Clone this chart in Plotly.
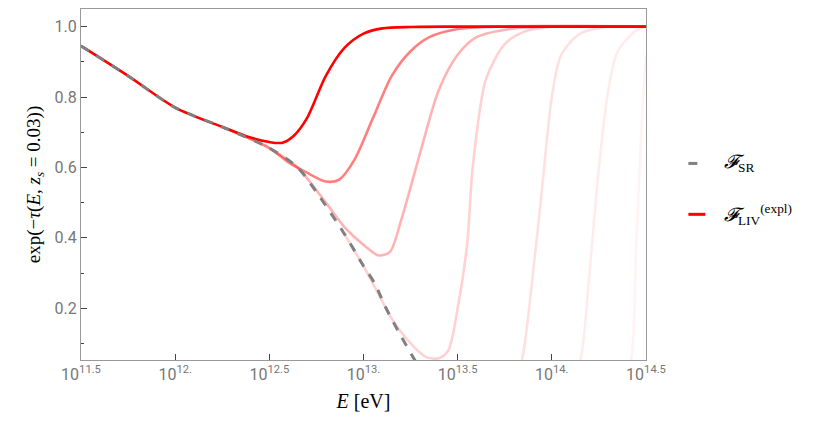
import plotly.graph_objects as go

# log10(E/eV) and exp(-tau)
sr_x = [11.5, 11.75, 12.0, 12.25, 12.5, 12.65, 12.75, 12.9, 13.0, 13.06, 13.12, 13.2, 13.27, 13.3]
sr_y = [0.945, 0.86, 0.77, 0.715, 0.655, 0.6, 0.53, 0.41, 0.32, 0.27, 0.2, 0.12, 0.055, 0.03]

liv_x = [
    [11.5, 11.75, 12.0, 12.25, 12.4, 12.5, 12.57, 12.63, 12.7, 12.8, 12.9, 13.0, 13.1, 13.25, 13.5, 14.5],
    [12.25, 12.5, 12.6, 12.7, 12.8, 12.87, 12.95, 13.05, 13.15, 13.25, 13.35, 13.5, 13.7, 14.5],
    [12.5, 12.65, 12.8, 12.9, 13.0, 13.08, 13.14, 13.2, 13.3, 13.4, 13.5, 13.6, 13.8, 14.0, 14.5],
    [12.9, 13.0, 13.08, 13.15, 13.25, 13.33, 13.4, 13.45, 13.5, 13.55, 13.58, 13.65, 13.75, 13.85, 14.0, 14.5],
    [13.8, 13.84, 13.9, 13.95, 14.0, 14.05, 14.15, 14.3, 14.5],
    [14.1, 14.15, 14.2, 14.25, 14.3, 14.35, 14.45, 14.5],
    [14.38, 14.42, 14.45, 14.48, 14.5],
]
liv_y = [
    [0.945, 0.86, 0.77, 0.715, 0.685, 0.672, 0.67, 0.69, 0.74, 0.86, 0.94, 0.98, 0.995, 0.999, 1.0, 1.0],
    [0.715, 0.655, 0.615, 0.585, 0.56, 0.565, 0.62, 0.74, 0.86, 0.93, 0.97, 0.993, 1.0, 1.0],
    [0.655, 0.6, 0.5, 0.43, 0.38, 0.35, 0.36, 0.45, 0.64, 0.82, 0.92, 0.97, 0.995, 1.0, 1.0],
    [0.41, 0.32, 0.24, 0.17, 0.1, 0.062, 0.058, 0.08, 0.2, 0.38, 0.6, 0.85, 0.95, 0.985, 1.0, 1.0],
    [0.0, 0.05, 0.3, 0.55, 0.8, 0.92, 0.98, 1.0, 1.0],
    [0.0, 0.05, 0.3, 0.6, 0.82, 0.93, 0.99, 1.0],
    [0.0, 0.05, 0.4, 0.75, 0.92],
]
liv_alpha = [1.0, 0.5, 0.3, 0.18, 0.12, 0.08, 0.05]

tick_vals = [11.5, 12.0, 12.5, 13.0, 13.5, 14.0, 14.5]
tick_text = ["10<sup>11.5</sup>", "10<sup>12.</sup>", "10<sup>12.5</sup>", "10<sup>13.</sup>",
             "10<sup>13.5</sup>", "10<sup>14.</sup>", "10<sup>14.5</sup>"]

fig = go.Figure()
for xs, ys, a in zip(liv_x[::-1], liv_y[::-1], liv_alpha[::-1]):
    fig.add_trace(go.Scatter(x=xs, y=ys, mode="lines",
                             line=dict(color="rgba(255,0,0,%s)" % a, width=2.6, shape="spline", smoothing=0.8),
                             showlegend=False))
fig.add_trace(go.Scatter(x=sr_x, y=sr_y, mode="lines",
                         line=dict(color="gray", width=3, dash="dash", shape="spline", smoothing=0.8),
                         showlegend=False))

serif = "Liberation Serif"
fig.update_layout(
    width=814, height=440, plot_bgcolor="white", paper_bgcolor="white",
    margin=dict(l=73, r=176, t=1, b=88),
    font=dict(family="Roboto", color="#777", size=16),
    xaxis=dict(range=[11.5, 14.5], tickvals=tick_vals, ticktext=tick_text, ticks="inside", ticklen=6,
               showgrid=False, zeroline=False, showline=True, linecolor="#999", mirror=True,
               title=dict(text="<i>E</i> [eV]", font=dict(family=serif, size=20, color="black"), standoff=10)),
    yaxis=dict(range=[0.053, 1.05], tickvals=[0.2, 0.4, 0.6, 0.8, 1.0],
               ticktext=["0.2", "0.4", "0.6", "0.8", "1.0"], ticks="inside", ticklen=6,
               minor=dict(ticks="inside", ticklen=3, dtick=0.1, tick0=0.1),
               showgrid=False, zeroline=False, showline=True, linecolor="#999", mirror=True,
               title=dict(text="exp(−<i>τ</i>(<i>E</i>, <i>z<sub>s</sub></i> = 0.03))",
                          font=dict(family=serif, size=19, color="black"), standoff=8)),
    shapes=[
        dict(type="line", xref="paper", yref="paper", x0=1.075, x1=1.105, y0=0.56, y1=0.56,
             line=dict(color="gray", width=3, dash="dash")),
        dict(type="line", xref="paper", yref="paper", x0=1.075, x1=1.105, y0=0.415, y1=0.415,
             line=dict(color="red", width=3)),
    ],
    annotations=[
        dict(xref="paper", yref="paper", x=1.135, y=0.56, xanchor="left", showarrow=False,
             text="<i>𝓕</i><sub>SR</sub>", font=dict(family=serif, size=19, color="black")),
        dict(xref="paper", yref="paper", x=1.135, y=0.415, xanchor="left", showarrow=False,
             text="<i>𝓕</i><sub>LIV</sub><sup>(expl)</sup>", font=dict(family=serif, size=19, color="black")),
    ],
)
fig.write_html("out.html")
